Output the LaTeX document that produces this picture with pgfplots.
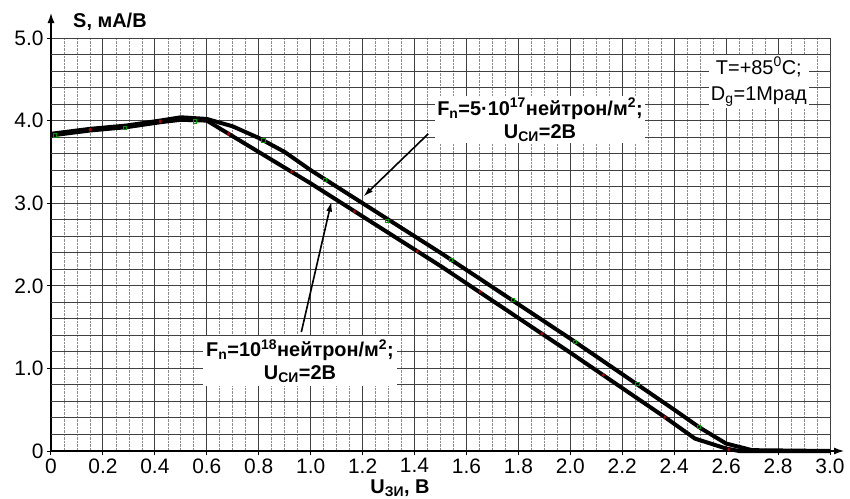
\documentclass[border=0pt]{standalone}
\usepackage{fontspec}
\setmainfont{Liberation Sans}
\usepackage{pgfplots}
\pgfplotsset{compat=1.18}
\usetikzlibrary{arrows.meta}
\begin{document}
\begin{tikzpicture}
\begin{axis}[
  scale only axis, width=779bp, height=413bp,
  xmin=0, xmax=3, ymin=0, ymax=5,
  axis lines=left,
  axis line style={line width=2.5bp},
  x axis line style={-{Latex[length=11bp,width=7bp]}, shorten >=-15bp},
  y axis line style={-{Latex[length=11bp,width=7bp]}, shorten >=-26bp},
  xtick={0,0.2,0.4,0.6,0.8,1.0,1.2,1.4,1.6,1.8,2.0,2.2,2.4,2.6,2.8,3.0},
  xticklabels={0,0.2,0.4,0.6,0.8,1.0,1.2,1.4,1.6,1.8,2.0,2.2,2.4,2.6,2.8,3.0},
  ytick={0,1,2,3,4,5},
  yticklabels={0,1.0,2.0,3.0,4.0,5.0},
  extra y ticks={0.2,0.4,0.6,0.8,1.2,1.4,1.6,1.8,2.2,2.4,2.6,2.8,3.2,3.4,3.6,3.8,4.2,4.4,4.6,4.8},
  extra y tick labels={},
  extra y tick style={major tick length=0pt},
  minor x tick num=3,
  grid=both,
  major grid style={black!75, line width=1bp},
  minor grid style={black!45, densely dotted, line width=0.7bp},
  tick align=outside, major tick length=4bp, minor tick length=0pt,
  tick style={black, line width=1bp},
  tick label style={font=\fontsize{21}{23}\selectfont},
  xticklabel style={yshift=0bp},
  clip=false,
]
% upper curve: F_n = 5e17
\addplot[black, line width=4bp, line join=round] coordinates {
  (0,3.84) (0.15,3.90) (0.29,3.94) (0.42,4.00) (0.5,4.04) (0.6,4.02)
  (0.7,3.93) (0.8,3.79) (0.9,3.62) (1.0,3.40) (1.5,2.40) (2.0,1.36)
  (2.4,0.50) (2.5,0.28) (2.6,0.09) (2.7,0.01) (3.0,0.0)
};
% lower curve: F_n = 1e18
\addplot[black, line width=4bp, line join=round] coordinates {
  (0,3.82) (0.15,3.88) (0.29,3.92) (0.42,3.98) (0.5,4.01) (0.6,4.00)
  (1.0,3.24) (1.5,2.24) (2.0,1.19) (2.364,0.41) (2.48,0.15)
  (2.6,0.03) (2.65,0.0) (3.0,0.0)
};
% markers
\addplot[only marks, mark=square, mark size=1.6bp, draw=green!60!black, mark options={line width=0.8bp}] coordinates {
  (0.015,3.82) (0.286,3.91) (0.555,3.99) (0.818,3.76) (1.055,3.28) (1.295,2.79)
  (1.54,2.31) (1.78,1.83) (2.018,1.32) (2.258,0.81) (2.495,0.29)
};
\addplot[only marks, mark=diamond*, mark size=1.6bp, color=red!75!black] coordinates {
  (0.15,3.89) (0.42,3.99) (0.684,3.84) (0.927,3.38) (1.168,2.90) (1.41,2.42)
  (1.652,1.93) (1.89,1.42) (2.127,0.92) (2.364,0.41) (2.61,0.02)
};
% annotations
\draw[line width=1.6bp, -{Latex[length=10bp,width=6bp]}] (axis cs:1.453,3.84) -- (axis cs:1.203,3.08);
\draw[line width=1.6bp, -{Latex[length=10bp,width=6bp]}] (axis cs:0.964,1.44) -- (axis cs:1.08,3.02);
\node[fill=white, inner sep=2bp, align=center, font=\fontsize{20}{23}\selectfont\bfseries]
  at (axis cs:1.883,4.01) {F\textsubscript{n}=5·10\textsuperscript{17}нейтрон/м\textsuperscript{2};\\U\textsubscript{СИ}=2В};
\node[fill=white, inner sep=3bp, align=center, font=\fontsize{20}{23}\selectfont\bfseries]
  at (axis cs:0.959,1.09) {F\textsubscript{n}=10\textsuperscript{18}нейтрон/м\textsuperscript{2};\\U\textsubscript{СИ}=2В};
\node[fill=white, inner sep=2bp, align=center, font=\fontsize{20}{26}\selectfont]
  at (axis cs:2.726,4.47) {T=+85\textsuperscript{0}C;\\D\textsubscript{g}=1Мрад};
% axis labels
\node[font=\fontsize{20}{22}\selectfont\bfseries] at (axis cs:0.227,5.19) {S, мА/В};
\node[font=\fontsize{20}{22}\selectfont\bfseries] at (axis cs:1.344,-0.45) {U\textsubscript{ЗИ}, В};
\end{axis}
\pgfresetboundingbox
\path[use as bounding box] (-51bp,-48bp) rectangle (799bp,451bp);
\end{tikzpicture}
\end{document}
